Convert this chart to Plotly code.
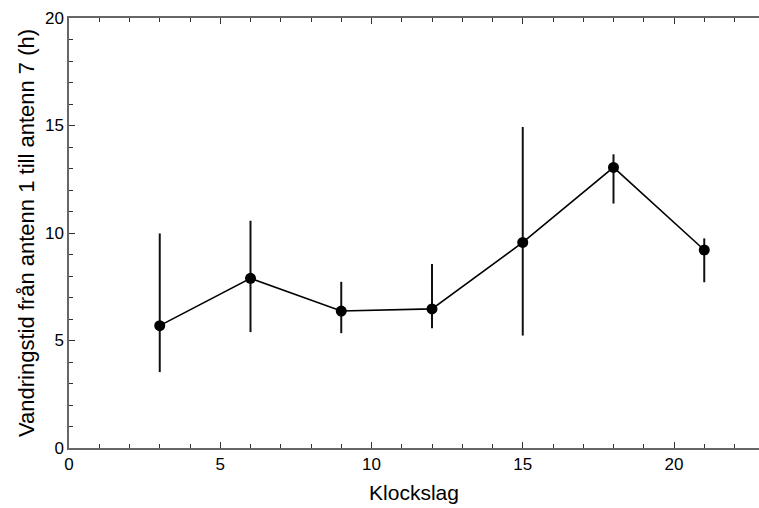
import plotly.graph_objects as go

hours = [3, 6, 9, 12, 15, 18, 21]
mean_time = [5.69, 7.89, 6.37, 6.47, 9.56, 13.05, 9.21]
upper = [9.98, 10.57, 7.73, 8.56, 14.93, 13.66, 9.75]
lower = [3.53, 5.39, 5.34, 5.57, 5.23, 11.37, 7.71]

err_plus = [u - m for u, m in zip(upper, mean_time)]
err_minus = [m - l for m, l in zip(mean_time, lower)]

fig = go.Figure()
fig.add_trace(go.Scatter(
    x=hours, y=mean_time, mode="lines+markers",
    line=dict(color="black", width=1.6),
    marker=dict(color="black", size=11),
    error_y=dict(type="data", array=err_plus, arrayminus=err_minus,
                 visible=True, width=0, thickness=2, color="#111111"),
    showlegend=False,
))

axis_common = dict(
    showgrid=False, zeroline=False, showline=True, linecolor="#666666", linewidth=1.5,
    ticks="inside", ticklen=6, tickwidth=1, tickcolor="#333333",
    tickfont=dict(family="Liberation Sans, Arial", size=17, color="black"),
)

fig.update_xaxes(
    range=[0, 22.81], tickvals=[0, 5, 10, 15, 20], mirror="ticks",
    minor=dict(dtick=1, ticks="inside", ticklen=4, tickcolor="#333333", tickwidth=1),
    title=dict(text="Klockslag", font=dict(family="Liberation Sans, Arial", size=21, color="black"), standoff=12),
    **axis_common,
)
fig.update_yaxes(
    range=[0, 20], tickvals=[0, 5, 10, 15, 20], mirror=False,
    minor=dict(dtick=1, ticks="inside", ticklen=4, tickcolor="#333333", tickwidth=1),
    title=dict(text="Vandringstid från antenn 1 till antenn 7 (h)",
               font=dict(family="Liberation Sans, Arial", size=22, color="black"), standoff=4),
    **axis_common,
)

fig.update_layout(
    width=759, height=508,
    margin=dict(l=69, r=0, t=18, b=60),
    plot_bgcolor="white", paper_bgcolor="white",
)

fig.write_html("out.html")
